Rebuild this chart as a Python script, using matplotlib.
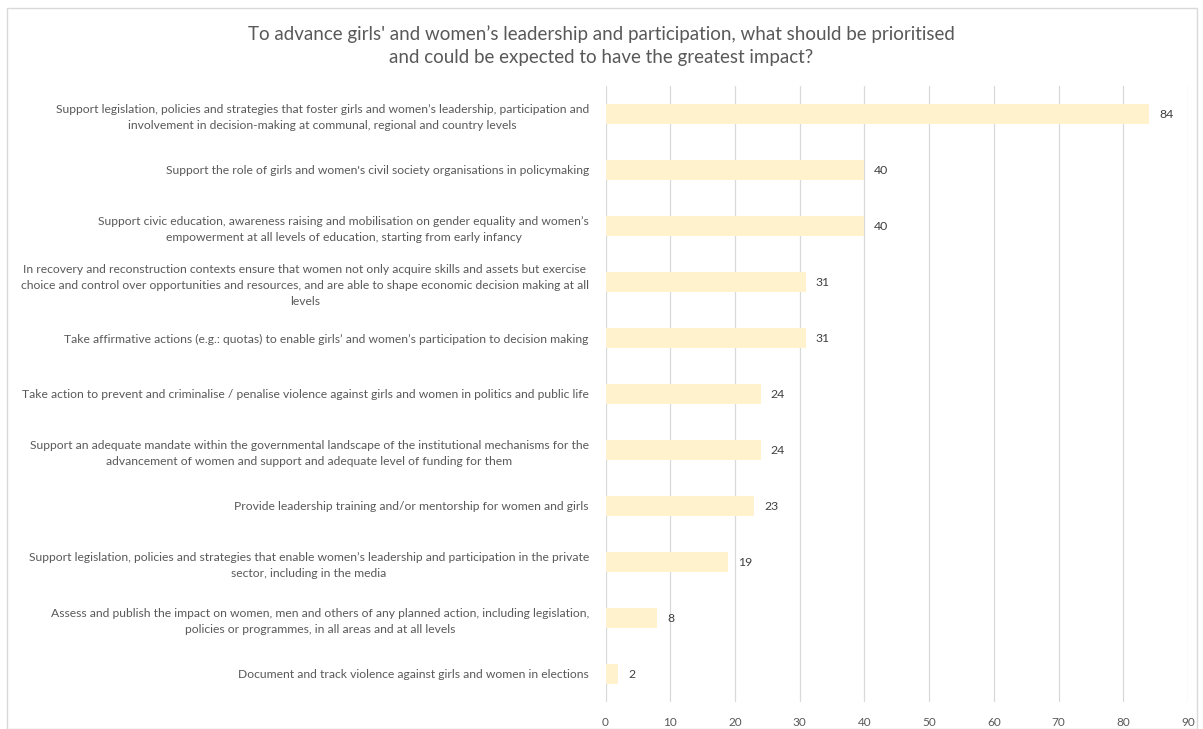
import matplotlib.pyplot as plt
from matplotlib.patches import Rectangle

plt.rcParams['font.family'] = ['Lato', 'DejaVu Sans']

title = ("To advance girls' and women\u2019s leadership and participation, what should be prioritised\n"
         "and could be expected to have the greatest impact?")

categories = [
    "Support legislation, policies and strategies that foster girls and women\u2019s leadership, participation and\n"
    "involvement in decision-making at communal, regional and country levels",
    "Support the role of girls and women's civil society organisations in policymaking",
    "Support civic education, awareness raising and mobilisation on gender equality and women\u2019s\n"
    "empowerment at all levels of education, starting from early infancy",
    "In recovery and reconstruction contexts ensure that women not only acquire skills and assets but exercise\n"
    "choice and control over opportunities and resources, and are able to shape economic decision making at all\n"
    "levels",
    "Take affirmative actions (e.g.: quotas) to enable girls\u2019 and women\u2019s participation to decision making",
    "Take action to prevent and criminalise / penalise violence against girls and women in politics and public life",
    "Support an adequate mandate within the governmental landscape of the institutional mechanisms for the\n"
    "advancement of women and support and adequate level of funding for them",
    "Provide leadership training and/or mentorship for women and girls",
    "Support legislation, policies and strategies that enable women\u2019s leadership and participation in the private\n"
    "sector, including in the media",
    "Assess and publish the impact on women, men and others of any planned action, including legislation,\n"
    "policies or programmes, in all areas and at all levels",
    "Document and track violence against girls and women in elections",
]
values = [84, 40, 40, 31, 31, 24, 24, 23, 19, 8, 2]
x_ticks = [0, 10, 20, 30, 40, 50, 60, 70, 80, 90]

text_color = '#595959'
bar_color = '#FFF2CC'
grid_color = '#D9D9D9'

W, H = 1203, 729
fig = plt.figure(figsize=(W / 100, H / 100), dpi=100)
fig.patches.append(Rectangle((7 / W, 0), 1190 / W, 1 - 8 / H,
                             transform=fig.transFigure, fill=False,
                             edgecolor='#D9D9D9', linewidth=1))

ax = fig.add_axes([605.5 / W, 1 - 702 / H, 582.5 / W, 616 / H])

y = list(range(len(values)))
ax.barh(y, values, height=0.35, color=bar_color, zorder=2)
ax.set_ylim(len(values) - 0.5, -0.5)
ax.set_xlim(0, 90)
ax.set_xticks(x_ticks)
ax.set_xticklabels([str(t) for t in x_ticks], fontsize=8.5, color=text_color)
ax.set_yticks(y)
ax.set_yticklabels(categories, fontsize=8.7, color=text_color, ha='right',
                   multialignment='center', linespacing=1.55)
ax.tick_params(axis='y', length=0, pad=12)
ax.tick_params(axis='x', length=0, pad=11)

ax.grid(axis='x', color=grid_color, linewidth=0.9, zorder=0)
for s in ax.spines.values():
    s.set_visible(False)

for yi, v in zip(y, values):
    ax.annotate(str(v), (v, yi), xytext=(7, 0), textcoords='offset points',
                va='center', ha='left', fontsize=8.8, color='#404040')

fig.text(0.5, 1 - 45.5 / H, title, ha='center', va='center',
         fontsize=13.5, color=text_color, linespacing=1.45)

fig.savefig('out.png', dpi=100)
